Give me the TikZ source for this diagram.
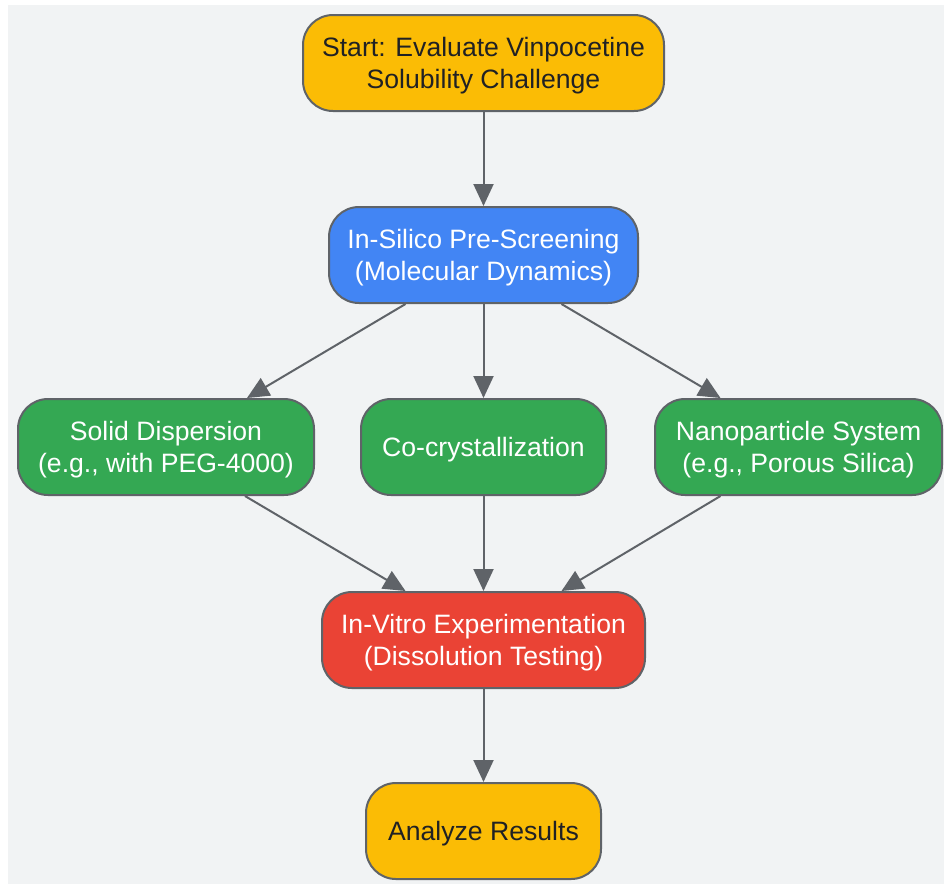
\documentclass[tikz,border=0pt]{standalone}
\usepackage{fontspec}
\setmainfont{Liberation Sans}
\usepackage{xcolor}
\usetikzlibrary{arrows.meta}
\definecolor{bgray}{HTML}{F1F3F4}
\definecolor{edge}{HTML}{5F6368}
\definecolor{gyellow}{HTML}{FBBC05}
\definecolor{gblue}{HTML}{4285F4}
\definecolor{ggreen}{HTML}{34A853}
\definecolor{gred}{HTML}{EA4335}
\definecolor{ink}{HTML}{202124}

\begin{document}
\begin{tikzpicture}[x=1pt,y=-1pt,
  box/.style={draw=edge,line width=2pt,rounded corners=30pt,minimum height=96pt,
    align=center,inner sep=0pt,text depth=0pt,font=\fontsize{26.6}{32}\selectfont},
  arr/.style={draw=edge,line width=2pt,-{Triangle[length=22pt,width=20pt]}}]
\def\cx{483.5}
\useasboundingbox (0,0) rectangle (944,884);
\fill[bgray] (8,5) rectangle (944,884);

\node[box,fill=gyellow,text=ink,minimum width=361pt] (start) at (\cx,63) {Start: Evaluate Vinpocetine\\Solubility Challenge};
\node[box,fill=gblue,text=white,minimum width=309pt] (silico) at (\cx,255) {In-Silico Pre-Screening\\(Molecular Dynamics)};
\node[box,fill=ggreen,text=white,minimum width=296pt] (solid) at (166,447) {Solid Dispersion\\(e.g., with PEG-4000)};
\node[box,fill=ggreen,text=white,minimum width=245pt] (cocry) at (\cx,447) {Co-crystallization};
\node[box,fill=ggreen,text=white,minimum width=287pt] (nano) at (798.5,447) {Nanoparticle System\\(e.g., Porous Silica)};
\node[box,fill=gred,text=white,minimum width=323pt] (vitro) at (\cx,640) {In-Vitro Experimentation\\(Dissolution Testing)};
\node[box,fill=gyellow,text=ink,minimum width=235pt] (result) at (\cx,831) {Analyze Results};

\draw[arr] (start) -- (silico);
\draw[arr] ([xshift=-78pt]silico.south) -- ([xshift=81pt]solid.north);
\draw[arr] (silico) -- (cocry);
\draw[arr] ([xshift=78pt]silico.south) -- ([xshift=-78pt]nano.north);
\draw[arr] ([xshift=79pt]solid.south) -- ([xshift=-78pt]vitro.north);
\draw[arr] (cocry) -- (vitro);
\draw[arr] ([xshift=-78pt]nano.south) -- ([xshift=78pt]vitro.north);
\draw[arr] (vitro) -- (result);

\end{tikzpicture}
\end{document}
